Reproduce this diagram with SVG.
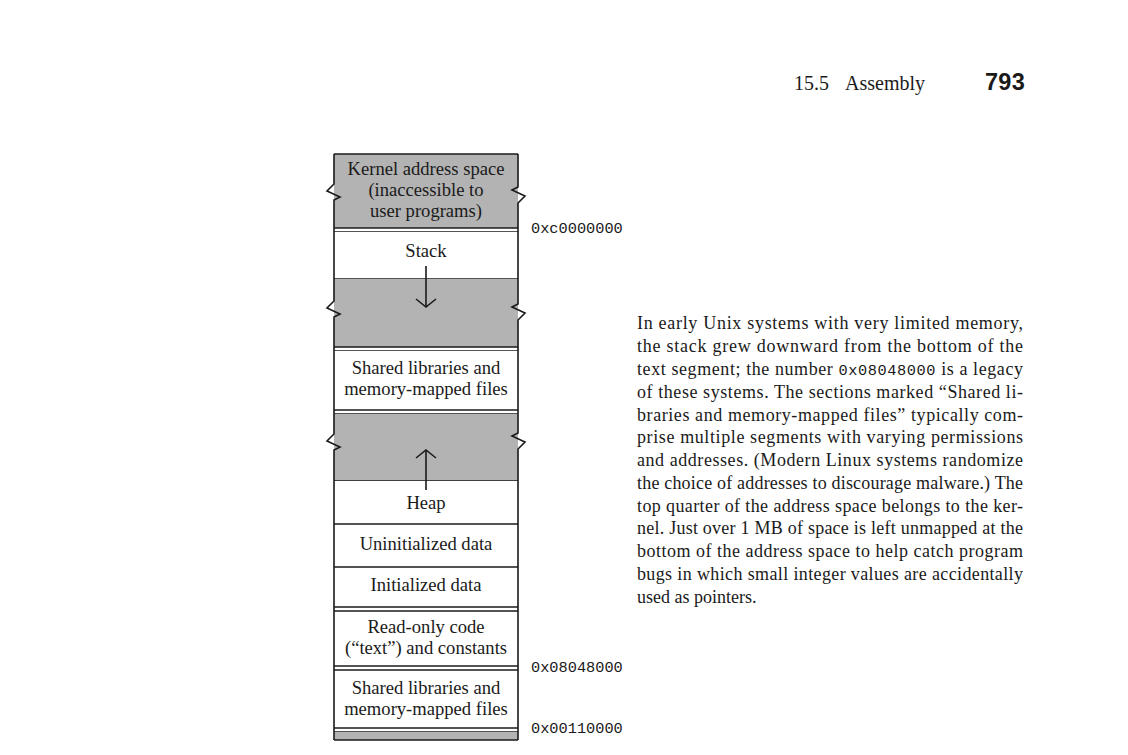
<svg xmlns="http://www.w3.org/2000/svg" width="1128" height="755" viewBox="0 0 1128 755">
<style>
.bg{fill:#ffffff}
.gray{fill:#b3b3b3}
.white{fill:#ffffff}
.ln{stroke:#1a1a1a;stroke-width:1.6;fill:none}
.wall{stroke:#1a1a1a;stroke-width:1.6;fill:none;stroke-linejoin:miter}
.lbl{font-family:"Liberation Serif","Times New Roman",serif;font-size:18.6px;fill:#1a1a1a;text-anchor:middle}
.mono{font-family:"Liberation Mono","Courier New",monospace;font-size:15.3px;fill:#1a1a1a}
.body{font-family:"Liberation Serif","Times New Roman",serif;font-size:18px;fill:#1a1a1a}
.hdr{font-family:"Liberation Serif","Times New Roman",serif;font-size:20px;fill:#1a1a1a}
.pg{font-family:"Liberation Sans",Arial,sans-serif;font-size:23.5px;font-weight:bold;fill:#1a1a1a;letter-spacing:0.3px}
</style>
<rect class="bg" x="0" y="0" width="1128" height="755"/>

<g id="header">
<text class="hdr" x="794" y="90">15.5</text>
<text class="hdr" x="845" y="90">Assembly</text>
<text class="pg" x="985" y="90">793</text>
</g>

<g id="kernel">
<rect class="gray" x="334" y="154" width="184" height="74"/>
<line class="ln" x1="334" y1="154" x2="518" y2="154"/>
<text class="lbl" x="426" y="175">Kernel address space</text>
<text class="lbl" x="426" y="196">(inaccessible to</text>
<text class="lbl" x="426" y="217">user programs)</text>
</g>
<g id="sep1"><line class="ln" x1="334" y1="228" x2="518" y2="228"/><line class="ln" x1="334" y1="232" x2="518" y2="232"/></g>

<g id="stack">
<rect class="white" x="334" y="232" width="184" height="47"/>
<text class="lbl" x="426" y="257">Stack</text>
<line class="ln" x1="334" y1="279" x2="518" y2="279"/>
</g>

<g id="gap-upper">
<rect class="gray" x="334" y="279" width="184" height="68"/>
</g>
<g id="sep2"><line class="ln" x1="334" y1="347" x2="518" y2="347"/><line class="ln" x1="334" y1="351" x2="518" y2="351"/></g>

<g id="shared-upper">
<rect class="white" x="334" y="351" width="184" height="59"/>
<text class="lbl" x="426" y="374">Shared libraries and</text>
<text class="lbl" x="426" y="395">memory-mapped files</text>
</g>
<g id="sep3"><line class="ln" x1="334" y1="410" x2="518" y2="410"/><line class="ln" x1="334" y1="414" x2="518" y2="414"/></g>

<g id="gap-lower">
<rect class="gray" x="334" y="414" width="184" height="67"/>
<line class="ln" x1="334" y1="481" x2="518" y2="481"/>
</g>

<g id="heap">
<rect class="white" x="334" y="481" width="184" height="43"/>
<text class="lbl" x="426" y="509">Heap</text>
<line class="ln" x1="334" y1="524" x2="518" y2="524"/>
</g>

<g id="uninit">
<text class="lbl" x="426" y="550">Uninitialized data</text>
<line class="ln" x1="334" y1="567" x2="518" y2="567"/>
</g>

<g id="init">
<text class="lbl" x="426" y="591">Initialized data</text>
</g>
<g id="sep4"><line class="ln" x1="334" y1="607" x2="518" y2="607"/><line class="ln" x1="334" y1="611" x2="518" y2="611"/></g>

<g id="text-seg">
<text class="lbl" x="426" y="633">Read-only code</text>
<text class="lbl" x="426" y="654">(“text”) and constants</text>
</g>
<g id="sep5"><line class="ln" x1="334" y1="666" x2="518" y2="666"/><line class="ln" x1="334" y1="670" x2="518" y2="670"/></g>

<g id="shared-lower">
<text class="lbl" x="426" y="694">Shared libraries and</text>
<text class="lbl" x="426" y="715">memory-mapped files</text>
</g>
<g id="sep6"><line class="ln" x1="334" y1="728" x2="518" y2="728"/><line class="ln" x1="334" y1="732" x2="518" y2="732"/></g>

<g id="unmapped">
<rect class="gray" x="334" y="732" width="184" height="8"/>
<line class="ln" x1="334" y1="740" x2="518" y2="740"/>
</g>

<g id="walls">
<path class="wall" d="M334,154 V184 L327,191 L340,197 L334,200 V301 L327,308 L340,314 L334,317 V434 L327,441 L340,447 L334,450 V740"/>
<path class="wall" d="M518,154 V187 L512,190 L525,196 L518,203 V304 L512,307 L525,313 L518,320 V433 L512,436 L525,442 L518,449 V740"/>
</g>

<g id="connectors">
<line class="ln" x1="426" y1="266" x2="426" y2="307"/>
<polyline class="ln" points="416,299 426,307 436,299"/>
<line class="ln" x1="426" y1="490" x2="426" y2="450"/>
<polyline class="ln" points="416,458 426,450 436,458"/>
</g>

<g id="addresses">
<text class="mono" x="531" y="233">0xc0000000</text>
<text class="mono" x="531" y="672">0x08048000</text>
<text class="mono" x="531" y="733">0x00110000</text>
</g>

<g id="paragraph">
<text class="body" x="637" y="329" textLength="386" lengthAdjust="spacing">In early Unix systems with very limited memory,</text>
<text class="body" x="637" y="352" textLength="386" lengthAdjust="spacing">the stack grew downward from the bottom of the</text>
<text class="body" x="637" y="375" textLength="386" lengthAdjust="spacing">text segment; the number <tspan class="mono">0x08048000</tspan> is a legacy</text>
<text class="body" x="637" y="398" textLength="386" lengthAdjust="spacing">of these systems.  The sections marked “Shared li-</text>
<text class="body" x="637" y="421" textLength="386" lengthAdjust="spacing">braries and memory-mapped files” typically com-</text>
<text class="body" x="637" y="443" textLength="386" lengthAdjust="spacing">prise multiple segments with varying permissions</text>
<text class="body" x="637" y="466" textLength="386" lengthAdjust="spacing">and addresses.  (Modern Linux systems randomize</text>
<text class="body" x="637" y="489" textLength="386" lengthAdjust="spacing">the choice of addresses to discourage malware.) The</text>
<text class="body" x="637" y="512" textLength="386" lengthAdjust="spacing">top quarter of the address space belongs to the ker-</text>
<text class="body" x="637" y="534" textLength="386" lengthAdjust="spacing">nel. Just over 1 MB of space is left unmapped at the</text>
<text class="body" x="637" y="557" textLength="386" lengthAdjust="spacing">bottom of the address space to help catch program</text>
<text class="body" x="637" y="580" textLength="386" lengthAdjust="spacing">bugs in which small integer values are accidentally</text>
<text class="body" x="637" y="603">used as pointers.</text>
</g>
</svg>
